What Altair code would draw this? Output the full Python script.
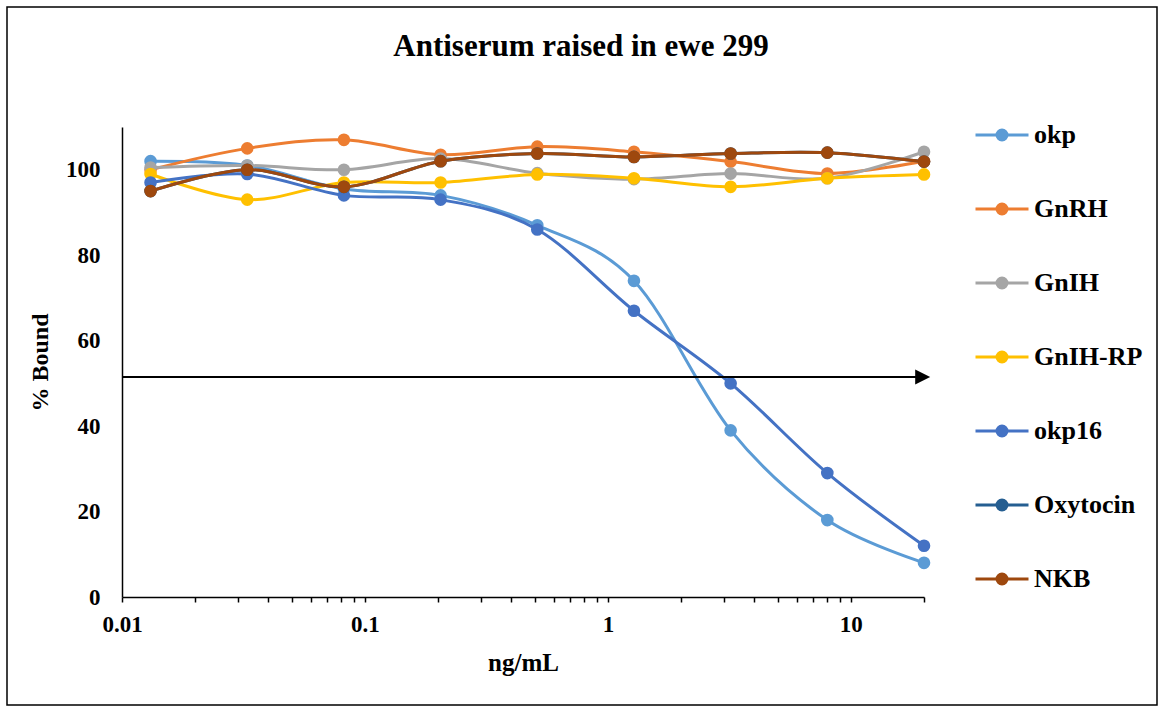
import altair as alt
import pandas as pd

# Concentrations (ng/mL), 2.5-fold serial dilutions
CONC = [0.0131072, 0.032768, 0.08192, 0.2048, 0.512, 1.28, 3.2, 8, 20]

SERIES = ["okp", "GnRH", "GnIH", "GnIH-RP", "okp16", "Oxytocin", "NKB"]
COLORS = ["#5B9BD5", "#ED7D31", "#A5A5A5", "#FFC000", "#4472C4", "#255E91", "#9E480E"]

# % bound at each concentration
okp = [102, 101, 95.5, 94, 87, 74, 39, 18, 8]
gnrh = [100, 105, 107, 103.5, 105.4, 104.2, 101.9, 99.1, 102]
gnih = [100.5, 101, 100, 102.6, 99.2, 97.8, 99.1, 98, 104.2]
gnih_rp = [99, 93, 97, 97, 98.9, 98, 96, 98, 98.9]
okp16 = [97, 99, 94, 93, 86, 67, 50, 29, 12]
oxytocin = [95, 100, 96, 102, 103.8, 103, 103.8, 104, 101.9]
nkb = [95, 100, 96, 102, 103.8, 103, 103.8, 104, 101.9]

VALUES = [okp, gnrh, gnih, gnih_rp, okp16, oxytocin, nkb]

# 50 % binding reference arrow
ARROW_Y = 51.5
ARROW_X = [0.01, 19.75]

TITLE = "Antiserum raised in ewe 299"
X_TITLE = "ng/mL"
Y_TITLE = "% Bound"

FONT = "Liberation Serif"
W, H = 802, 470

rows = []
for name, vals in zip(SERIES, VALUES):
    for c, v in zip(CONC, vals):
        rows.append({"series": name, "conc": c, "bound": v})
df = pd.DataFrame(rows)

# log-axis tick positions: 1..9 x each decade, plus the upper end
tick_vals = []
for k in (-2, -1, 0, 1):
    for m in range(1, 10):
        tick_vals.append(round(m * 10 ** k, 6))
tick_vals.append(20)

color_scale = alt.Scale(domain=SERIES, range=COLORS)

x_enc = alt.X(
    "conc:Q",
    scale=alt.Scale(type="log", domain=[0.01, 20], nice=False),
    axis=alt.Axis(
        title=X_TITLE,
        values=tick_vals,
        format="~g",
        labelExpr="datum.value == 0.01 || datum.value == 0.1 || datum.value == 1 || datum.value == 10 ? datum.label : ''",
        labelOverlap=False,
        labelFlush=False,
        grid=False,
        tickSize=5,
        tickWidth=1.5,
        tickColor="black",
        domainColor="black",
        domainWidth=1.5,
        labelFont=FONT,
        labelFontSize=23,
        labelFontWeight="bold",
        labelColor="black",
        labelPadding=11,
        titleFont=FONT,
        titleFontSize=25,
        titleFontWeight="bold",
        titleColor="black",
        titlePadding=14,
    ),
)

y_enc = alt.Y(
    "bound:Q",
    scale=alt.Scale(domain=[0, 110], nice=False),
    axis=alt.Axis(
        title=Y_TITLE,
        values=[0, 20, 40, 60, 80, 100],
        grid=False,
        ticks=False,
        domainColor="black",
        domainWidth=1.5,
        labelFont=FONT,
        labelFontSize=23,
        labelFontWeight="bold",
        labelColor="black",
        labelPadding=22,
        titleFont=FONT,
        titleFontSize=24,
        titleFontWeight="bold",
        titleColor="black",
        titlePadding=13,
    ),
)

# legend symbol: a line segment with a solid dot in the middle
def ring(r):
    return f"M{r},0A{r},{r},0,1,1,{-r},0A{r},{r},0,1,1,{r},0"

SYMBOL = "M-1,0L1,0" + ring(0.0566) + ring(0.1509) + ring(0.1887)

legend = alt.Legend(
    title=None,
    orient="none",
    legendX=852,
    legendY=-20,
    direction="vertical",
    symbolType=SYMBOL,
    symbolSize=2809,
    symbolStrokeWidth=3,
    labelFont=FONT,
    labelFontSize=26,
    labelFontWeight="bold",
    labelColor="black",
    labelOffset=4,
    rowPadding=33,
    padding=0,
)

layers = []

# outer chart frame
frame = alt.Chart(pd.DataFrame({"f": [0]})).mark_rect(
    fillOpacity=0, stroke="black", strokeWidth=1.5
).encode(
    x=alt.value(-115), x2=alt.value(1035), y=alt.value(-120), y2=alt.value(578)
)
layers.append(frame)

for name in SERIES:
    sub = df[df["series"] == name]
    base = alt.Chart(sub)
    line = base.mark_line(interpolate="cardinal", strokeWidth=3).encode(
        x=x_enc,
        y=y_enc,
        color=alt.Color("series:N", scale=color_scale, legend=legend),
    )
    pts = base.mark_circle(size=160, opacity=1).encode(
        x=x_enc,
        y=y_enc,
        color=alt.Color("series:N", scale=color_scale, legend=None),
    )
    layers += [line, pts]

arrow_df = pd.DataFrame({"x0": [ARROW_X[0]], "x1": [ARROW_X[1]], "y": [ARROW_Y]})
arrow_line = alt.Chart(arrow_df).mark_rule(color="black", strokeWidth=2).encode(
    x="x0:Q", x2="x1:Q", y="y:Q"
)
arrow_head = alt.Chart(arrow_df).mark_point(
    shape="M-1,-1L1,0L-1,1Z", size=225, filled=True, color="black", opacity=1
).encode(x="x1:Q", y="y:Q")
layers += [arrow_line, arrow_head]

title = alt.Chart(pd.DataFrame({"t": [TITLE]})).mark_text(
    font=FONT, fontSize=31, fontWeight="bold", color="black", align="center", baseline="middle"
).encode(text="t:N", x=alt.value(459), y=alt.value(-80))
layers.append(title)

chart = (
    alt.layer(*layers)
    .properties(
        width=W,
        height=H,
        autosize=alt.AutoSizeParams(type="none"),
        padding={"left": 122, "top": 127, "right": 239, "bottom": 112},
        background="white",
    )
    .configure_view(stroke=None)
)

chart.save("out.html", embed_options={"renderer": "svg", "actions": False})
